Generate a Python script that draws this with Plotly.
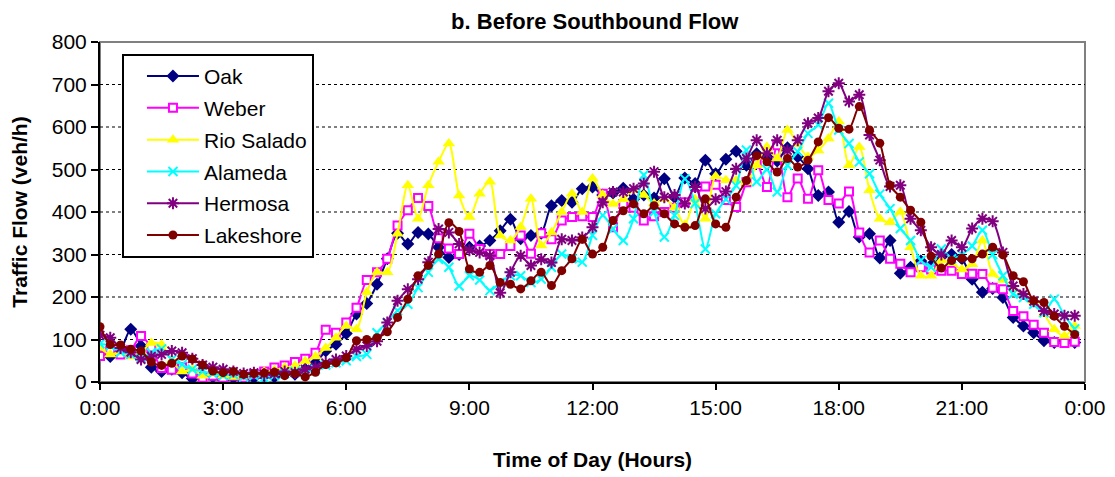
import plotly.graph_objects as go

# 15-minute intervals over one day (hours)
step_minutes = 15
hours = [i * step_minutes / 60 for i in range(96)]

x_tick_vals = [0, 3, 6, 9, 12, 15, 18, 21, 24]
x_tick_text = ["0:00", "3:00", "6:00", "9:00", "12:00", "15:00", "18:00", "21:00", "0:00"]
y_tick_vals = [0, 100, 200, 300, 400, 500, 600, 700, 800]

oak = [65, 60, 75, 124, 85, 35, 25, 30, 22, 8, 15, 12,
       5, 10, 3, 10, 15, 12, 20, 18, 30, 45, 73, 89,
       114, 160, 185, 230, 290, 350, 325, 352, 348, 317, 293, 300,
       317, 320, 333, 356, 383, 337, 345, 350, 415, 427, 423, 455,
       459, 440, 445, 456, 430, 440, 433, 478, 435, 480, 467, 522,
       490, 524, 543, 510, 537, 530, 520, 551, 530, 502, 439, 447,
       376, 401, 341, 349, 292, 333, 256, 270, 285, 275, 295, 300,
       290, 242, 211, 220, 199, 152, 132, 116, 97, 93, 97, 93]

weber = [61, 75, 65, 75, 108, 80, 33, 29, 35, 20, 10, 15,
         10, 15, 10, 18, 25, 34, 39, 47, 55, 69, 123, 116,
         140, 175, 240, 258, 290, 368, 404, 433, 414, 338, 314, 301,
         349, 313, 301, 301, 320, 345, 302, 350, 336, 380, 388, 390,
         388, 443, 364, 419, 410, 380, 390, 400, 410, 423, 440, 460,
         464, 428, 412, 470, 514, 459, 557, 435, 479, 431, 498, 428,
         420, 448, 352, 305, 333, 290, 278, 258, 270, 265, 262, 262,
         254, 255, 254, 222, 218, 167, 155, 135, 116, 94, 92, 95]

rio_salado = [80, 65, 70, 60, 70, 92, 88, 50, 25, 30, 15, 20,
              15, 12, 15, 20, 25, 28, 34, 38, 49, 60, 80, 104,
              132, 124, 211, 258, 258, 349, 463, 384, 463, 518, 561, 439,
              388, 443, 471, 345, 333, 365, 431, 321, 352, 400, 443, 400,
              479, 440, 419, 430, 451, 440, 420, 430, 410, 370, 430, 384,
              484, 475, 475, 470, 510, 553, 526, 593, 560, 530, 545, 573,
              613, 510, 553, 451, 384, 376, 400, 317, 250, 250, 286, 280,
              265, 277, 333, 254, 240, 220, 205, 191, 160, 124, 108, 132]

alameda = [90, 85, 70, 65, 56, 69, 78, 53, 41, 30, 25, 20,
           15, 18, 12, 15, 10, 15, 20, 25, 22, 30, 40, 45,
           50, 60, 65, 116, 140, 168, 183, 222, 258, 289, 270, 226,
           250, 240, 215, 234, 250, 250, 234, 242, 270, 301, 290, 282,
           345, 392, 360, 333, 384, 487, 400, 341, 392, 478, 420, 313,
           396, 430, 462, 546, 471, 500, 447, 510, 542, 585, 605, 656,
           593, 561, 518, 490, 442, 408, 361, 333, 286, 270, 313, 290,
           300, 320, 357, 300, 250, 207, 199, 183, 163, 195, 156, 125]

hermosa = [110, 104, 80, 70, 53, 60, 65, 73, 69, 55, 40, 35,
           30, 25, 20, 22, 18, 20, 25, 22, 30, 35, 45, 53,
           61, 77, 85, 96, 140, 191, 218, 242, 282, 360, 352, 325,
           310, 305, 297, 210, 258, 297, 274, 289, 281, 336, 333, 340,
           364, 423, 447, 447, 455, 467, 495, 435, 440, 420, 459, 408,
           430, 448, 502, 526, 569, 538, 569, 545, 569, 609, 621, 684,
           703, 660, 676, 581, 522, 460, 463, 384, 357, 317, 300, 333,
           317, 361, 384, 378, 305, 226, 207, 190, 167, 160, 156, 156]

lakeshore = [130, 88, 87, 77, 73, 47, 39, 44, 61, 54, 40, 26,
             22, 25, 18, 20, 21, 23, 15, 20, 12, 23, 41, 45,
             57, 97, 100, 104, 118, 152, 195, 250, 274, 301, 375, 354,
             266, 258, 274, 234, 230, 219, 238, 258, 227, 262, 290, 336,
             301, 317, 380, 403, 419, 396, 415, 396, 372, 364, 368, 431,
             372, 364, 435, 474, 533, 518, 494, 526, 506, 522, 565, 622,
             597, 595, 648, 593, 562, 463, 435, 404, 376, 296, 268, 286,
             291, 290, 301, 317, 299, 250, 236, 191, 187, 155, 131, 112]

series = [
    ("Oak", oak, "#000080", dict(symbol="diamond", size=10, color="#000080")),
    ("Weber", weber, "#FF00FF", dict(symbol="square", size=8, color="white",
                                     line=dict(color="#FF00FF", width=2))),
    ("Rio Salado", rio_salado, "#FFFF00", dict(symbol="triangle-up", size=11, color="#FFFF00")),
    ("Alameda", alameda, "#00FFFF", dict(symbol="x-thin", size=9,
                                         line=dict(color="#00FFFF", width=2))),
    ("Hermosa", hermosa, "#800080", dict(symbol="asterisk", size=10,
                                         line=dict(color="#800080", width=2))),
    ("Lakeshore", lakeshore, "#800000", dict(symbol="circle", size=9, color="#800000")),
]

FONT = "Arial, Liberation Sans, sans-serif"

fig = go.Figure()
for name, vals, col, mk in series:
    fig.add_trace(go.Scatter(
        x=hours, y=vals, name=name, mode="lines+markers",
        line=dict(color=col, width=2, shape="spline", smoothing=0.8),
        marker=mk, legendgroup=name,
    ))

shapes = [dict(type="rect", xref="paper", yref="paper", x0=0, x1=1, y0=0, y1=1,
               line=dict(color="#808080", width=2), layer="below")]
for yv in y_tick_vals[1:-1]:
    shapes.append(dict(type="line", xref="paper", yref="y", x0=0, x1=1, y0=yv, y1=yv,
                       line=dict(color="black", width=1, dash="dot"), layer="below"))

fig.update_layout(
    width=1107, height=469,
    margin=dict(l=92, r=30, t=34, b=95, autoexpand=False),
    paper_bgcolor="white", plot_bgcolor="white",
    font=dict(family=FONT, color="black", size=21),
    title=dict(text="<b>b. Before Southbound Flow</b>", x=0.530, xanchor="center",
               y=0.972, yanchor="middle", font=dict(size=22, family=FONT)),
    showlegend=True,
    legend=dict(x=0.0223, y=0.965, xanchor="left", yanchor="top",
                bgcolor="white", bordercolor="black", borderwidth=2,
                font=dict(size=21, family=FONT), tracegroupgap=1.5,
                itemwidth=52, indentation=18),
    shapes=shapes,
)
fig.update_xaxes(range=[0, 24], tickvals=x_tick_vals, ticktext=x_tick_text,
                 showgrid=False, zeroline=False, showline=True, linecolor="black",
                 linewidth=2, ticks="outside", ticklen=6, tickwidth=1.5, tickcolor="black",
                 tickfont=dict(size=21), automargin=False,
                 title=dict(text="<b>Time of Day (Hours)</b>", font=dict(size=21), standoff=34))
fig.update_yaxes(range=[0, 800], tickvals=y_tick_vals,
                 showgrid=False, zeroline=False, showline=True, linecolor="black",
                 linewidth=2, ticks="outside", ticklen=7, tickwidth=1.5, tickcolor="black",
                 tickfont=dict(size=21), automargin=False,
                 title=dict(text="<b>Traffic Flow (veh/h)</b>", font=dict(size=21), standoff=19))

fig.write_html("out.html")
